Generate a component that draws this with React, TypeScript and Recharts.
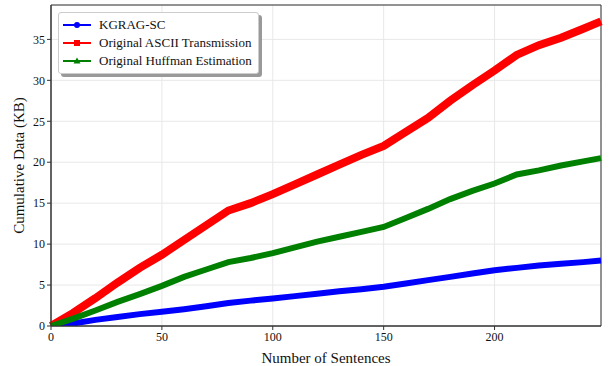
import {
  CartesianGrid,
  Line,
  LineChart,
  ReferenceArea,
  XAxis,
  YAxis
} from "recharts"

const sentences = [0, 10, 20, 30, 40, 50, 60, 70, 80, 90, 100, 110, 120, 130, 140, 150, 160, 170, 180, 190, 200, 210, 220, 230, 240, 248]
const kgragSc = [0, 0.3, 0.75, 1.1, 1.45, 1.75, 2.05, 2.4, 2.8, 3.1, 3.35, 3.65, 3.95, 4.25, 4.5, 4.8, 5.2, 5.6, 6.0, 6.4, 6.8, 7.1, 7.4, 7.6, 7.8, 8.0]
const asciiTx = [0, 1.6, 3.4, 5.3, 7.1, 8.7, 10.5, 12.3, 14.1, 15.0, 16.1, 17.3, 18.5, 19.7, 20.9, 22.0, 23.7, 25.4, 27.5, 29.4, 31.2, 33.1, 34.3, 35.2, 36.3, 37.2]
const huffman = [0, 0.9, 1.9, 2.95, 3.9, 4.9, 6.0, 6.9, 7.8, 8.3, 8.9, 9.6, 10.3, 10.9, 11.5, 12.1, 13.2, 14.3, 15.5, 16.5, 17.4, 18.5, 19.0, 19.6, 20.1, 20.5]

const xTicks = [0, 50, 100, 150, 200]
const yTicks = [0, 5, 10, 15, 20, 25, 30, 35]

const XMAX = 248
const YMAX = 39.2
const font = "'Liberation Serif', 'Times New Roman', serif"

const series = [
  { key: "kgrag", name: "KGRAG-SC", color: "#0000ff", marker: "circle" },
  { key: "ascii", name: "Original ASCII Transmission", color: "#ff0000", marker: "square" },
  { key: "huff", name: "Original Huffman Estimation", color: "#008000", marker: "triangle" }
]

const chartData = sentences.map((s, i) => ({
  n: s,
  kgrag: kgragSc[i],
  ascii: asciiTx[i],
  huff: huffman[i]
}))

const Marker = ({ type, color }: { type: string, color: string }) => {
  if (type === "circle") return <circle cx={14} cy={6} r={3} fill={color} />
  if (type === "square") return <rect x={11} y={3} width={6} height={6} fill={color} />
  return <polygon points="14,2.5 17.5,8.5 10.5,8.5" fill={color} />
}

// legend drawn as an overlay so it does not shrink the plot area
const LegendBox = () => (
  <div style={{
    position: "absolute",
    left: 58,
    top: 12,
    background: "#fff",
    border: "1px solid #ccc",
    borderRadius: 3,
    boxShadow: "3px 3px 0 #999",
    padding: "3px 6px 3px 4px",
    fontFamily: font,
    fontSize: 13,
    color: "#111"
  }}>
    {series.map(s => (
      <div key={s.key} style={{ display: "flex", alignItems: "center", height: 18, whiteSpace: "nowrap" }}>
        <svg width={28} height={12} style={{ marginRight: 8 }}>
          <line x1={0} y1={6} x2={28} y2={6} stroke={s.color} strokeWidth={2} />
          <Marker type={s.marker} color={s.color} />
        </svg>
        <span>{s.name}</span>
      </div>
    ))}
  </div>
)

export default function App() {
  return (
    <div style={{ position: "absolute", left: 0, top: 0, width: 610, height: 366 }}>
      <LineChart width={610} height={366} data={chartData}
        margin={{ top: 5, right: 9, bottom: 0, left: 0 }}>
        <CartesianGrid stroke="#e8e8e8" strokeWidth={1} />
        <XAxis dataKey="n" type="number" domain={[0, XMAX]} ticks={xTicks}
          height={40} tickSize={4} stroke="#333"
          tick={{ fill: "#111", fontFamily: font, fontSize: 12 }}
          label={{ value: "Number of Sentences", position: "insideBottom", offset: 3, fill: "#111", fontFamily: font, fontSize: 15 }} />
        <YAxis type="number" domain={[0, YMAX]} ticks={yTicks} width={51}
          tickSize={4} stroke="#333" allowDataOverflow
          tick={{ fill: "#111", fontFamily: font, fontSize: 12 }}
          label={{ value: "Cumulative Data (KB)", angle: -90, position: "insideLeft", offset: 19, style: { textAnchor: "middle" }, fill: "#111", fontFamily: font, fontSize: 15 }} />
        <ReferenceArea x1={0} x2={XMAX} y1={0} y2={YMAX} fill="none" stroke="#333" strokeWidth={1} />
        <Line type="linear" dataKey="kgrag" name="KGRAG-SC" stroke="#0000ff" strokeWidth={6} dot={false} isAnimationActive={false} />
        <Line type="linear" dataKey="ascii" name="Original ASCII Transmission" stroke="#ff0000" strokeWidth={8} dot={false} isAnimationActive={false} />
        <Line type="linear" dataKey="huff" name="Original Huffman Estimation" stroke="#008000" strokeWidth={6} dot={false} isAnimationActive={false} />
      </LineChart>
      <LegendBox />
    </div>
  )
}
